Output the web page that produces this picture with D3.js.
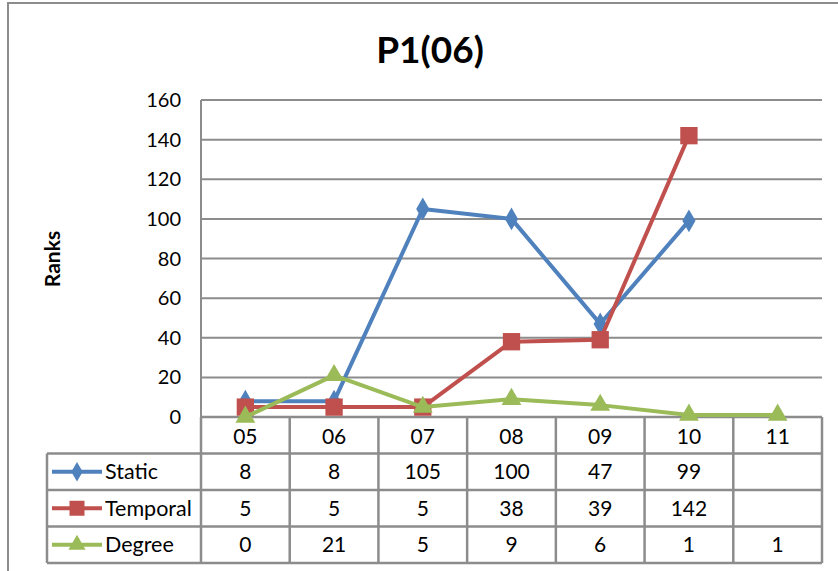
<!DOCTYPE html>
<html>
<head>
<meta charset="utf-8">
<script src="https://cdn.jsdelivr.net/npm/d3@7"></script>
<style>
  body { margin: 0; background: #fff; }
  text { font-family: Lato, "Open Sans", sans-serif; fill: #000; }
</style>
</head>
<body>
<svg id="chart" width="838" height="571"></svg>
<script>
// chart data
const categories = ["05", "06", "07", "08", "09", "10", "11"];
const staticRanks = [8, 8, 105, 100, 47, 99, null];
const temporalRanks = [5, 5, 5, 38, 39, 142, null];
const degreeRanks = [0, 21, 5, 9, 6, 1, 1];
const yTicks = [0, 20, 40, 60, 80, 100, 120, 140, 160];

const series = [
  { name: "Static", values: staticRanks, color: "#4f81bd", marker: d3.symbolDiamond, size: 150 },
  { name: "Temporal", values: temporalRanks, color: "#c0504d", marker: d3.symbolSquare, size: 300 },
  { name: "Degree", values: degreeRanks, color: "#9bbb59", marker: d3.symbolTriangle, size: 170 }
];

const svg = d3.select("#chart");
const gridColor = "#8c8c8c";

// outer border (cut off on right/bottom like the original)
svg.append("rect")
  .attr("x", 8).attr("y", 3)
  .attr("width", 840).attr("height", 580)
  .attr("fill", "none")
  .attr("stroke", "#8c8c8c")
  .attr("stroke-width", 2);

const plot = { left: 201, right: 822, top: 100, bottom: 417 };
const rowH = 36.5;
const legendLeft = 47;

const x = d3.scaleBand()
  .domain(categories)
  .range([plot.left, plot.right]);

const y = d3.scaleLinear()
  .domain([0, 160])
  .range([plot.bottom, plot.top]);

// title
svg.append("text")
  .attr("x", 430).attr("y", 63)
  .attr("text-anchor", "middle")
  .style("font-size", "37px")
  .style("font-weight", "bold")
  .text("P1(06)");

// y axis title
svg.append("text")
  .attr("transform", "translate(60,259) rotate(-90)")
  .attr("text-anchor", "middle")
  .style("font-size", "21px")
  .style("font-weight", "bold")
  .text("Ranks");

// gridlines
svg.append("g").selectAll("line")
  .data(yTicks.filter(d => d > 0))
  .enter().append("line")
  .attr("x1", plot.left).attr("x2", plot.right)
  .attr("y1", d => y(d)).attr("y2", d => y(d))
  .attr("stroke", gridColor)
  .attr("stroke-width", 2);

// y axis line
svg.append("line")
  .attr("x1", plot.left).attr("x2", plot.left)
  .attr("y1", plot.top).attr("y2", plot.bottom)
  .attr("stroke", gridColor)
  .attr("stroke-width", 2);

// y tick labels
svg.append("g").selectAll("text")
  .data(yTicks)
  .enter().append("text")
  .attr("x", 181)
  .attr("y", d => y(d))
  .attr("dy", "0.35em")
  .attr("text-anchor", "end")
  .style("font-size", "20px")
  .text(d => d);

// data table
const table = svg.append("g");
const tableBottom = plot.bottom + rowH * 4;

// horizontal lines
table.append("line")
  .attr("x1", plot.left).attr("x2", plot.right)
  .attr("y1", plot.bottom).attr("y2", plot.bottom)
  .attr("stroke", gridColor).attr("stroke-width", 2.5);
[1, 2, 3, 4].forEach(r => {
  table.append("line")
    .attr("x1", legendLeft).attr("x2", plot.right)
    .attr("y1", plot.bottom + r * rowH).attr("y2", plot.bottom + r * rowH)
    .attr("stroke", gridColor).attr("stroke-width", 2.5);
});
// vertical lines
categories.forEach(c => {
  table.append("line")
    .attr("x1", x(c)).attr("x2", x(c))
    .attr("y1", plot.bottom).attr("y2", tableBottom)
    .attr("stroke", gridColor).attr("stroke-width", 2.5);
});
table.append("line")
  .attr("x1", plot.right).attr("x2", plot.right)
  .attr("y1", plot.bottom).attr("y2", tableBottom)
  .attr("stroke", gridColor).attr("stroke-width", 2.5);
table.append("line")
  .attr("x1", legendLeft).attr("x2", legendLeft)
  .attr("y1", plot.bottom + rowH).attr("y2", tableBottom)
  .attr("stroke", gridColor).attr("stroke-width", 2.5);

// category labels
table.selectAll(".cat")
  .data(categories)
  .enter().append("text")
  .attr("class", "cat")
  .attr("x", d => x(d) + x.bandwidth() / 2)
  .attr("y", plot.bottom + rowH / 2 + 1)
  .attr("dy", "0.35em")
  .attr("text-anchor", "middle")
  .style("font-size", "21px")
  .text(d => d);

// series rows
series.forEach((s, i) => {
  const cy = plot.bottom + rowH * (i + 1) + rowH / 2;
  table.append("line")
    .attr("x1", 52).attr("x2", 102)
    .attr("y1", cy).attr("y2", cy)
    .attr("stroke", s.color).attr("stroke-width", 4);
  table.append("path")
    .attr("d", d3.symbol().type(s.marker).size(s.size * 0.75)())
    .attr("transform", `translate(77,${cy})`)
    .attr("fill", s.color);
  table.append("text")
    .attr("x", 105).attr("y", cy)
    .attr("dy", "0.35em")
    .style("font-size", "21.5px")
    .text(s.name);
  table.selectAll(".v" + i)
    .data(s.values)
    .enter().append("text")
    .attr("x", (d, j) => x(categories[j]) + x.bandwidth() / 2)
    .attr("y", cy)
    .attr("dy", "0.35em")
    .attr("text-anchor", "middle")
    .style("font-size", "21px")
    .text(d => d == null ? "" : d);
});

// lines and markers
const line = d3.line()
  .defined(d => d != null)
  .x((d, i) => x(categories[i]) + x.bandwidth() / 2)
  .y(d => y(d));

series.forEach(s => {
  const g = svg.append("g");
  g.append("path")
    .datum(s.values)
    .attr("d", line)
    .attr("fill", "none")
    .attr("stroke", s.color)
    .attr("stroke-width", 4)
    .attr("stroke-linejoin", "round");
  g.selectAll("path.m")
    .data(s.values.map((v, i) => ({ v, i })).filter(d => d.v != null))
    .enter().append("path")
    .attr("class", "m")
    .attr("d", d3.symbol().type(s.marker).size(s.size)())
    .attr("transform", d => `translate(${x(categories[d.i]) + x.bandwidth() / 2},${y(d.v)})`)
    .attr("fill", s.color);
});
</script>
</body>
</html>
